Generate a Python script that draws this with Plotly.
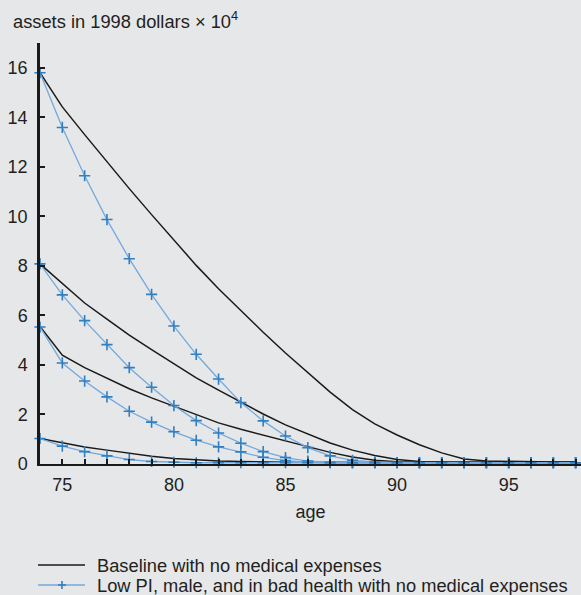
import plotly.graph_objects as go

ages = list(range(74, 99))

# Baseline with no medical expenses (black), four initial asset levels
base_1 = [15.8, 14.42, 13.3, 12.2, 11.12, 10.07, 9.03, 8.02, 7.08, 6.18, 5.32, 4.48, 3.68,
          2.9, 2.2, 1.62, 1.17, 0.78, 0.45, 0.2, 0.12, 0.1, 0.09, 0.08, 0.08]
base_2 = [8.08, 7.3, 6.5, 5.85, 5.2, 4.62, 4.05, 3.48, 2.98, 2.5, 2.02, 1.58, 1.2,
          0.85, 0.56, 0.34, 0.18, 0.1, 0.08, 0.07, 0.07, 0.06, 0.06, 0.06, 0.06]
base_3 = [5.55, 4.39, 3.89, 3.45, 3.04, 2.67, 2.33, 1.97, 1.66, 1.4, 1.17, 0.96, 0.7,
          0.47, 0.28, 0.15, 0.09, 0.07, 0.06, 0.06, 0.06, 0.06, 0.06, 0.06, 0.06]
base_4 = [1.03, 0.85, 0.69, 0.56, 0.42, 0.31, 0.22, 0.16, 0.12, 0.1, 0.08, 0.07, 0.07,
          0.06, 0.06, 0.06, 0.06, 0.06, 0.06, 0.06, 0.06, 0.06, 0.06, 0.06, 0.06]

# Low PI, male, and in bad health with no medical expenses (blue)
low_1 = [15.8, 13.59, 11.64, 9.87, 8.29, 6.85, 5.57, 4.43, 3.43, 2.48, 1.74, 1.13, 0.66,
         0.33, 0.15, 0.08, 0.06, 0.05, 0.05, 0.05, 0.05, 0.05, 0.05, 0.05, 0.05]
low_2 = [8.08, 6.83, 5.79, 4.82, 3.89, 3.1, 2.36, 1.75, 1.25, 0.84, 0.5, 0.26, 0.12,
         0.07, 0.05, 0.05, 0.05, 0.05, 0.05, 0.05, 0.05, 0.05, 0.05, 0.05, 0.05]
low_3 = [5.53, 4.08, 3.35, 2.71, 2.13, 1.69, 1.3, 0.96, 0.69, 0.49, 0.27, 0.14, 0.07,
         0.05, 0.05, 0.05, 0.05, 0.05, 0.05, 0.05, 0.05, 0.05, 0.05, 0.05, 0.05]
low_4 = [1.03, 0.72, 0.5, 0.33, 0.18, 0.1, 0.07, 0.05, 0.05, 0.05, 0.05, 0.05, 0.05,
         0.05, 0.05, 0.05, 0.05, 0.05, 0.05, 0.05, 0.05, 0.05, 0.05, 0.05, 0.05]

legend_labels = ["Baseline with no medical expenses",
                 "Low PI, male, and in bad health with no medical expenses"]

y_ticks = [0, 2, 4, 6, 8, 10, 12, 14, 16]
y_minor_ticks = [17]
x_ticks = [75, 80, 85, 90, 95]
x_minor_ticks = list(range(74, 99))

BG = "#e6e7e9"
BLACK = "#1a1a1a"
TEXT = "#231f20"
BLUE_LINE = "#74a8dc"
BLUE_MARK = "#2f7fc1"
FONT = "Liberation Sans, Arial, sans-serif"

W, H = 581, 595
ML, MR, MT, MB = 40, 0, 43, 131
PW, PH = W - ML - MR, H - MT - MB


def px_x(px):
    return (px - ML) / PW


def px_y(py):
    return (H - MB - py) / PH


fig = go.Figure()

for s in [base_1, base_2, base_3, base_4]:
    fig.add_trace(go.Scatter(
        x=ages, y=s, mode="lines",
        line=dict(color=BLACK, width=1.5),
        name=legend_labels[0], showlegend=False, cliponaxis=False,
    ))

for s in [low_1, low_2, low_3, low_4]:
    fig.add_trace(go.Scatter(
        x=ages, y=s, mode="lines+markers",
        line=dict(color=BLUE_LINE, width=1.3),
        marker=dict(symbol="cross-thin", size=8,
                    line=dict(color=BLUE_MARK, width=1.6), color=BLUE_MARK),
        name=legend_labels[1], showlegend=False, cliponaxis=False,
    ))

# manual legend (layout elements, in paper coordinates)
leg_rows = [565, 585]
shapes = [
    dict(type="line", xref="paper", yref="paper",
         x0=px_x(38), x1=px_x(85), y0=px_y(leg_rows[0]), y1=px_y(leg_rows[0]),
         line=dict(color=BLACK, width=1.5)),
    dict(type="line", xref="paper", yref="paper",
         x0=px_x(38), x1=px_x(85), y0=px_y(leg_rows[1]), y1=px_y(leg_rows[1]),
         line=dict(color=BLUE_LINE, width=1.3)),
    dict(type="line", xref="paper", yref="paper",
         x0=px_x(58), x1=px_x(66), y0=px_y(leg_rows[1]), y1=px_y(leg_rows[1]),
         line=dict(color=BLUE_MARK, width=1.6)),
    dict(type="line", xref="paper", yref="paper",
         x0=px_x(62), x1=px_x(62), y0=px_y(leg_rows[1] - 4), y1=px_y(leg_rows[1] + 4),
         line=dict(color=BLUE_MARK, width=1.6)),
]
annotations = [
    dict(text="assets in 1998 dollars × 10<sup>4</sup>",
         xref="paper", yref="paper", x=px_x(11), y=px_y(20), xanchor="left",
         yanchor="middle", showarrow=False,
         font=dict(size=18.3, family=FONT, color=TEXT)),
]
for lbl, row in zip(legend_labels, leg_rows):
    annotations.append(dict(
        text=lbl, xref="paper", yref="paper", x=px_x(96), y=px_y(row),
        xanchor="left", yanchor="middle", showarrow=False, borderpad=0,
        font=dict(size=18.3, family=FONT, color=TEXT)))

fig.update_layout(
    width=W, height=H,
    margin=dict(l=ML, r=MR, t=MT, b=MB, autoexpand=False),
    paper_bgcolor=BG, plot_bgcolor=BG,
    font=dict(family=FONT, size=17, color=TEXT),
    showlegend=False,
    shapes=shapes,
    annotations=annotations,
)

fig.update_xaxes(
    range=[74, 98.24], tickmode="array", tickvals=x_ticks,
    ticks="inside", ticklen=5, tickwidth=1.5, tickcolor=BLACK,
    minor=dict(tickmode="array", tickvals=x_minor_ticks, ticks="inside",
               ticklen=5, tickwidth=1.5, tickcolor=BLACK, showgrid=False),
    showline=True, linecolor=BLACK, linewidth=2,
    showgrid=False, zeroline=False,
    ticklabelstandoff=3,
    tickfont=dict(size=18),
    title=dict(text="age", standoff=12, font=dict(size=18, family=FONT)),
)
fig.update_yaxes(
    range=[0, 17], tickmode="array", tickvals=y_ticks,
    ticks="inside", ticklen=5, tickwidth=1.5, tickcolor=BLACK,
    minor=dict(tickmode="array", tickvals=y_minor_ticks, ticks="inside",
               ticklen=5, tickwidth=1.5, tickcolor=BLACK, showgrid=False),
    showline=True, linecolor=BLACK, linewidth=2.5,
    showgrid=False, zeroline=False,
    ticklabelstandoff=6,
    tickfont=dict(size=18),
)

fig.write_html(
    "out.html",
    config={"displayModeBar": False},
    post_script="document.body.style.margin='0px';document.body.style.overflow='hidden';",
)
